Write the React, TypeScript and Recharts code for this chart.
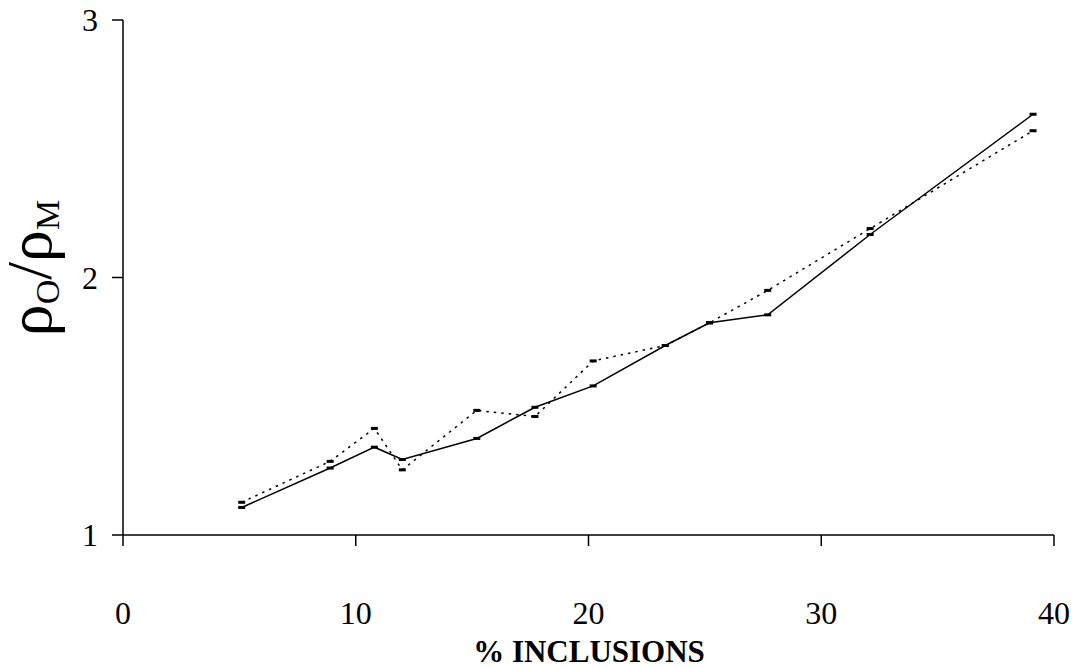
import { Line, LineChart, XAxis, YAxis } from "recharts";

const inclusions = [5.1, 8.9, 10.8, 12.0, 15.2, 17.7, 20.2, 23.3, 25.2, 27.7, 32.1, 39.1];
const solidRatio = [1.107, 1.26, 1.341, 1.293, 1.375, 1.496, 1.579, 1.736, 1.824, 1.855, 2.167, 2.634];
const dottedRatio = [1.127, 1.286, 1.414, 1.253, 1.484, 1.46, 1.676, 1.736, 1.824, 1.95, 2.19, 2.57];
const xTicks = [0, 10, 20, 30, 40];
const yTicks = [1, 2, 3];

const data = inclusions.map((x, i) => ({ x, solid: solidRatio[i], dotted: dottedRatio[i] }));

const font = "'Liberation Serif', 'DejaVu Serif', serif";

function Marker(props: any) {
  const { cx, cy, index } = props;
  if (cx == null || cy == null) return null;
  return <rect key={index} x={cx - 3.5} y={cy - 1.5} width={7} height={3} fill="#000" />;
}

// rho_O / rho_M, rotated
function YTitle() {
  return (
    <text transform="rotate(-90)" x={-268} y={51} textAnchor="middle" fontFamily={font} fill="#000">
      <tspan fontSize={64}>ρ</tspan>
      <tspan fontSize={34} dy={8}>O</tspan>
      <tspan fontSize={64} dy={-8}>/ρ</tspan>
      <tspan fontSize={34} dy={8}>M</tspan>
    </text>
  );
}

function XTitle() {
  return (
    <text x={589} y={662} textAnchor="middle" fontFamily={font} fontSize={31} fontWeight="bold" fill="#000">
      % INCLUSIONS
    </text>
  );
}

export default function App() {
  return (
    <div style={{ position: "absolute", left: 0, top: 0, width: 1075, height: 668, background: "#fff" }}>
      <LineChart width={1075} height={668} data={data} margin={{ top: 20, right: 21, bottom: 73, left: 63 }}>
        <XAxis
          dataKey="x"
          type="number"
          domain={[0, 40]}
          ticks={xTicks}
          height={60}
          tickSize={11}
          tickMargin={55}
          stroke="#000"
          strokeWidth={1.5}
          tick={{ fill: "#000", fontSize: 32, fontFamily: font }}
          label={{ content: XTitle }}
        />
        <YAxis
          type="number"
          domain={[1, 3]}
          ticks={yTicks}
          width={60}
          tickSize={11}
          tickMargin={14}
          stroke="#000"
          strokeWidth={1.5}
          tick={{ fill: "#000", fontSize: 32, fontFamily: font }}
          label={{ content: YTitle }}
        />
        <Line
          dataKey="dotted"
          stroke="#000"
          strokeWidth={1.5}
          strokeDasharray="2.5 5"
          dot={Marker}
          activeDot={false}
          isAnimationActive={false}
        />
        <Line
          dataKey="solid"
          stroke="#000"
          strokeWidth={1.5}
          dot={Marker}
          activeDot={false}
          isAnimationActive={false}
        />
      </LineChart>
    </div>
  );
}
